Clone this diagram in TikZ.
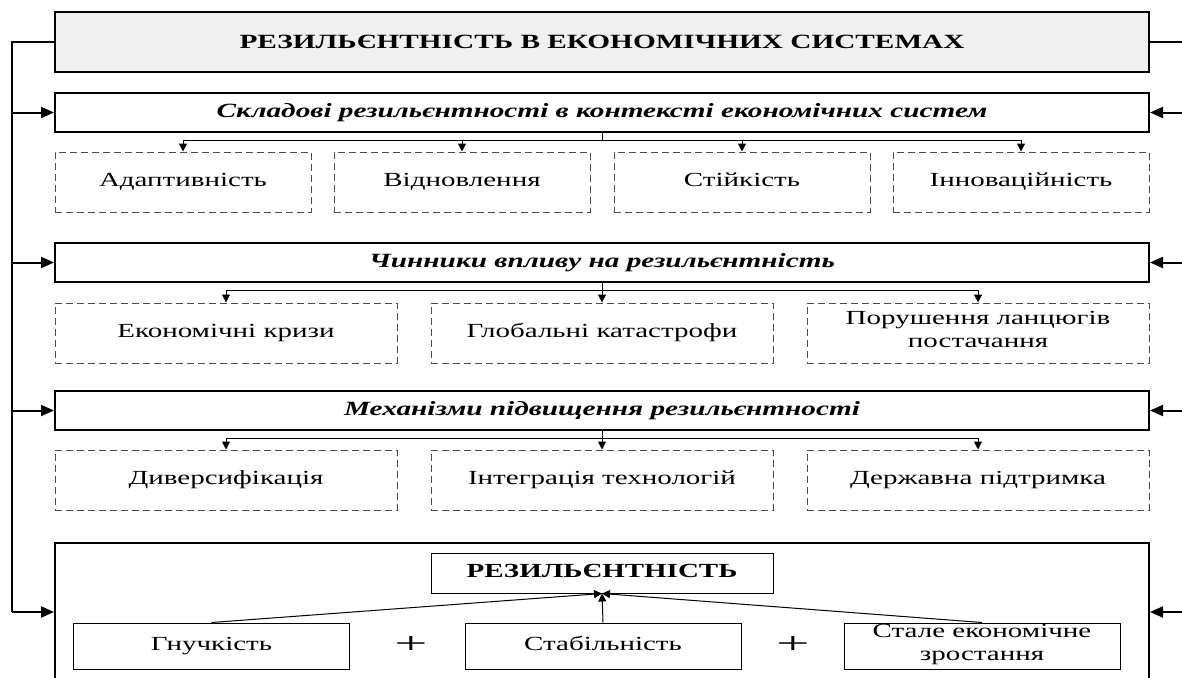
\documentclass[tikz,border=0pt]{standalone}
\usepackage{fontspec}
\setmainfont{Liberation Serif}[FakeStretch=1.45]
\usetikzlibrary{arrows.meta}

\begin{document}
\begin{tikzpicture}[x=1pt,y=-1pt,
  txt/.style={font=\fontsize{20}{23}\selectfont, align=center, inner sep=0pt,
    execute at begin node=\strut},
  titlebox/.style={draw, line width=2pt, fill=gray!12, inner sep=0pt,
    minimum width=1094pt, minimum height=60pt, font=\fontsize{20.2}{23}\selectfont\bfseries},
  headbox/.style={draw, line width=2pt, inner sep=0pt, minimum width=1094pt,
    minimum height=39pt, font=\fontsize{20.2}{23}\selectfont\bfseries\itshape},
  dbox/.style={txt, draw=black!70, line width=1pt, dash pattern=on 7pt off 4pt,
    minimum height=60pt},
  sbox/.style={txt, draw, line width=1pt, minimum width=276pt, minimum height=46pt},
  bus/.style={line width=2pt},
  busarrow/.style={line width=2pt, -{Triangle[length=13pt,width=11pt]}},
  dist/.style={line width=1pt},
  distarrow/.style={line width=1pt, -{Triangle[length=8pt,width=8pt]}},
  plussign/.style={font=\fontsize{30}{30}\selectfont, inner sep=0pt}
]
\useasboundingbox (0,0) rectangle (1182,677);
\clip (0,0) rectangle (1182,677);

% title and section headers
\node[titlebox] (title) at (602,42) {РЕЗИЛЬЄНТНІСТЬ В ЕКОНОМІЧНИХ СИСТЕМАХ};
\node[headbox] (h1) at (602,112.5) {Складові резильєнтності в контексті економічних систем};
\node[headbox] (h2) at (602,262.5) {Чинники впливу на резильєнтність};
\node[headbox] (h3) at (602,410.5) {Механізми підвищення резильєнтності};

% components
\node[dbox, minimum width=256pt] (a1) at (183,182) {Адаптивність};
\node[dbox, minimum width=256pt] (a2) at (462,182) {Відновлення};
\node[dbox, minimum width=256pt] (a3) at (742,182) {Стійкість};
\node[dbox, minimum width=256pt] (a4) at (1021,182) {Інноваційність};

% factors
\node[dbox, minimum width=342pt] (b1) at (226,333) {Економічні кризи};
\node[dbox, minimum width=342pt] (b2) at (602,333) {Глобальні катастрофи};
\node[dbox, minimum width=342pt] (b3) at (978,333) {Порушення ланцюгів\\постачання\strut};

% mechanisms
\node[dbox, minimum width=342pt] (c1) at (226,480) {Диверсифікація};
\node[dbox, minimum width=342pt] (c2) at (602,480) {Інтеграція технологій};
\node[dbox, minimum width=342pt] (c3) at (978,480) {Державна підтримка};

% resilience frame
\node[draw, line width=2pt, minimum width=1094pt, minimum height=200pt] (frame) at (602,643) {};
\node[txt, draw, line width=1pt, minimum width=342pt, minimum height=40pt,
  font=\fontsize{20}{23}\selectfont\bfseries] (res) at (602,573) {РЕЗИЛЬЄНТНІСТЬ};
\node[sbox] (g1) at (211.5,646) {Гнучкість};
\node[sbox] (g2) at (603,646) {Стабільність};
\node[sbox] (g3) at (982,646) {Стале економічне\\зростання\strut};
\node[plussign] (p1) at (411,645) {\scalebox{1.35}[1]{+}};
\node[plussign] (p2) at (793,645) {\scalebox{1.35}[1]{+}};

\draw[distarrow] (g1.north) -- (res.south);
\draw[distarrow] (g2.north) -- (res.south);
\draw[distarrow] (g3.north) -- (res.south);

% distribution lines under the headers
\coordinate (d1) at (602,140);
\coordinate (d2) at (602,290);
\coordinate (d3) at (602,438);
\draw[dist] (h1.south) -- (h1.south |- d1);
\draw[dist] (a1.north |- d1) -- (a4.north |- d1);
\foreach \n in {a1,a2,a3,a4} \draw[distarrow] (\n.north |- d1) -- (\n.north);
\draw[dist] (b1.north |- d2) -- (b3.north |- d2);
\draw[dist] (h2.south) -- (h2.south |- d2);
\foreach \n in {b1,b2,b3} \draw[distarrow] (\n.north |- d2) -- (\n.north);
\draw[dist] (c1.north |- d3) -- (c3.north |- d3);
\draw[dist] (h3.south) -- (h3.south |- d3);
\foreach \n in {c1,c2,c3} \draw[distarrow] (\n.north |- d3) -- (\n.north);

% left and right buses
\coordinate (lt) at (12,42);
\coordinate (lb) at (12,612);
\coordinate (rt) at (1186,42);
\coordinate (rb) at (1186,612);
\draw[bus] (title.west) -- (lt) -- (lb);
\draw[bus] (title.east) -- (rt) -- (rb);
\foreach \n in {h1,h2,h3} {
  \draw[busarrow] (lt |- \n.west) -- (\n.west);
  \draw[busarrow] (rt |- \n.east) -- (\n.east);
}
\draw[busarrow] (lb) -- (lb -| frame.west);
\draw[busarrow] (rb) -- (rb -| frame.east);
\end{tikzpicture}
\end{document}
